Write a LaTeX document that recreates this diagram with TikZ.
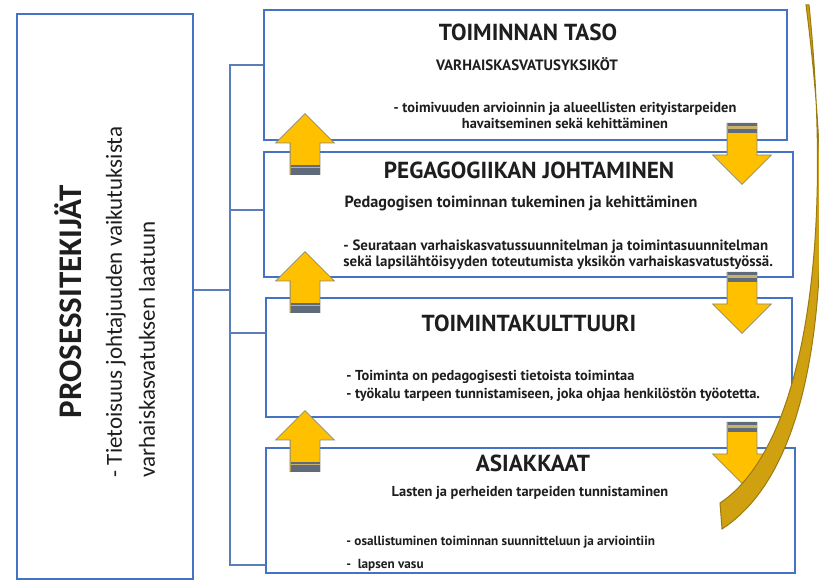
\documentclass[tikz,border=0pt]{standalone}
\usepackage{fontspec}
\newfontfamily\ptsans{PT Sans}
\newfontfamily\carlito{Carlito}
\usepackage{tikz}
\usetikzlibrary{shapes.arrows}
\definecolor{laatikonsininen}{HTML}{4472C4}
\definecolor{puunsininen}{HTML}{5B7DB8}
\definecolor{teksti}{HTML}{1E1E1E}
\definecolor{nuolenkeltainen}{HTML}{FFC000}
\definecolor{nuolenreuna}{HTML}{8A8A7A}
\definecolor{kaistanharmaa}{HTML}{5F6B7A}
\definecolor{raidankeltainen}{HTML}{C9B06B}
\definecolor{kaarenkulta}{HTML}{CFA010}
\definecolor{kaarenreuna}{HTML}{9C7A10}
\tikzstyle{laatikko} = [rectangle, draw=laatikonsininen, line width=1.4pt, fill=white, inner sep=0pt]
\tikzstyle{puu} = [draw=puunsininen, line width=0.6pt]
\tikzstyle{vasenteksti} = [font=\carlito\fontsize{11.5}{16.5}\selectfont, text=teksti, inner sep=0pt]
\tikzstyle{otsikko} = [font=\ptsans\bfseries\fontsize{11.6}{13}\selectfont, text=teksti, inner sep=0pt]
\tikzstyle{alaotsikko} = [font=\ptsans\bfseries\fontsize{8.1}{9}\selectfont, text=teksti, inner sep=0pt]
\tikzstyle{luettelo} = [font=\ptsans\bfseries\fontsize{7.2}{8}\selectfont, text=teksti, inner sep=0pt, align=left]
\tikzstyle{nuoli} = [single arrow, draw=nuolenreuna, line width=0.4pt, fill=nuolenkeltainen,
    minimum width=29pt, minimum height=30.5pt, single arrow head extend=7.25pt,
    single arrow tip angle=90, inner xsep=0pt, inner ysep=7.25pt, anchor=tail]
\tikzstyle{kaista} = [fill=kaistanharmaa]
\tikzstyle{raita} = [fill=raidankeltainen]

\begin{document}
\begin{tikzpicture}[x=0.5pt, y=-0.5pt]
  \useasboundingbox (0,0) rectangle (819,581);
   % Place boxes
    \node [laatikko, minimum width=88pt, minimum height=282.5pt] (prosessi) at (105,296.5) {};
    \node [laatikko, minimum width=261.5pt, minimum height=65pt] (taso) at (525.5,75) {};
    \node [laatikko, minimum width=264.5pt, minimum height=62.5pt] (johtaminen) at (528.5,214.5) {};
    \node [laatikko, minimum width=263pt, minimum height=59.5pt] (kulttuuri) at (529,357.5) {};
    \node [laatikko, minimum width=264.5pt, minimum height=62.5pt] (asiakkaat) at (530.5,510.5) {};
   % Draw tree
    \coordinate (haara) at (230,290);
    \draw [puu] (prosessi.east |- haara) -- (haara);
    \draw [puu] (taso.west |- 0,65) -| (haara) |- (asiakkaat.west |- 0,565);
    \draw [puu] (haara |- 0,210) -- (johtaminen.west |- 0,210);
    \draw [puu] (haara |- 0,333) -- (kulttuuri.west |- 0,333);
   % Texts
    \node [vasenteksti, rotate=90] (prosessiteksti) at (110,302) {%
      \begin{tabular}{@{}l@{}}
      \multicolumn{1}{@{}c@{}}{\fontsize{16.5}{20}\selectfont\bfseries PROSESSITEKIJÄT}\\[3.5pt]
      - Tietoisuus johtajuuden vaikutuksista\\
      varhaiskasvatuksen laatuun
      \end{tabular}};
    \node [otsikko] (taso-otsikko) at (528,32) {TOIMINNAN TASO};
    \node [alaotsikko, font=\ptsans\bfseries\fontsize{7.5}{9}\selectfont] (taso-ala) at (527,64) {VARHAISKASVATUSYKSIKÖT};
    \node [luettelo, align=center] (taso-luettelo) at (565,115) {- toimivuuden arvioinnin ja alueellisten erityistarpeiden\\havaitseminen sekä kehittäminen};
    \node [otsikko] (johtaminen-otsikko) at (529,170) {PEGAGOGIIKAN JOHTAMINEN};
    \node [alaotsikko] (johtaminen-ala) at (521,203) {Pedagogisen toiminnan tukeminen ja kehittäminen};
    \node [luettelo, anchor=west, font=\ptsans\bfseries\fontsize{7.45}{8}\selectfont] (johtaminen-luettelo) at (343,255) {- Seurataan varhaiskasvatussuunnitelman ja toimintasuunnitelman\\sekä lapsilähtöisyyden toteutumista yksikön varhaiskasvatustyössä.};
    \node [otsikko] (kulttuuri-otsikko) at (529,323) {TOIMINTAKULTTUURI};
    \node [luettelo, anchor=west, font=\ptsans\bfseries\fontsize{7.2}{9}\selectfont] (kulttuuri-luettelo) at (346,386) {- Toiminta on pedagogisesti tietoista toimintaa\\- työkalu tarpeen tunnistamiseen, joka ohjaa henkilöstön työotetta.};
    \node [otsikko] (asiakkaat-otsikko) at (533,463) {ASIAKKAAT};
    \node [alaotsikko, font=\ptsans\bfseries\fontsize{7.2}{9}\selectfont] (asiakkaat-ala) at (530,493) {Lasten ja perheiden tarpeiden tunnistaminen};
    \node [luettelo, anchor=west, font=\ptsans\bfseries\fontsize{6.6}{11.5}\selectfont] (asiakkaat-luettelo) at (346,553.5) {- osallistuminen toiminnan suunnitteluun ja arviointiin\\-\enspace lapsen vasu};
   % Up arrows
    \node [nuoli, rotate=90] (ylos1) at (305,175) {};
    \node [nuoli, rotate=90] (ylos2) at (305,313) {};
    \node [nuoli, rotate=90] (ylos3) at (305,472) {};
    \fill [kaista] ([xshift=-7.25pt]ylos1.tail) rectangle ([xshift=7.25pt,yshift=5pt]ylos1.tail);
    \fill [raita] ([xshift=-7.25pt,yshift=3.5pt]ylos1.tail) rectangle ([xshift=7.25pt,yshift=4.2pt]ylos1.tail);
    \fill [kaista] ([xshift=-7.25pt]ylos2.tail) rectangle ([xshift=7.25pt,yshift=5pt]ylos2.tail);
    \fill [raita] ([xshift=-7.25pt,yshift=3.5pt]ylos2.tail) rectangle ([xshift=7.25pt,yshift=4.2pt]ylos2.tail);
    \fill [kaista] ([xshift=-7.25pt]ylos3.tail) rectangle ([xshift=7.25pt,yshift=5pt]ylos3.tail);
    \fill [raita] ([xshift=-7.25pt,yshift=3.5pt]ylos3.tail) rectangle ([xshift=7.25pt,yshift=4.2pt]ylos3.tail);
   % Down arrows
    \node [nuoli, rotate=-90] (alas1) at (742,123) {};
    \node [nuoli, rotate=-90] (alas2) at (742,272) {};
    \node [nuoli, rotate=-90] (alas3) at (742,422) {};
    \fill [kaista] ([xshift=-7.25pt]alas1.tail) rectangle ([xshift=7.25pt,yshift=-5pt]alas1.tail);
    \fill [raita] ([xshift=-7.25pt,yshift=-1.5pt]alas1.tail) rectangle ([xshift=7.25pt,yshift=-3.2pt]alas1.tail);
    \fill [kaista] ([xshift=-7.25pt]alas2.tail) rectangle ([xshift=7.25pt,yshift=-5pt]alas2.tail);
    \fill [raita] ([xshift=-7.25pt,yshift=-1.5pt]alas2.tail) rectangle ([xshift=7.25pt,yshift=-3.2pt]alas2.tail);
    \fill [kaista] ([xshift=-7.25pt]alas3.tail) rectangle ([xshift=7.25pt,yshift=-5pt]alas3.tail);
    \fill [raita] ([xshift=-7.25pt,yshift=-1.5pt]alas3.tail) rectangle ([xshift=7.25pt,yshift=-3.2pt]alas3.tail);
   % Curved arrow
    \filldraw [fill=kaarenkulta, draw=kaarenreuna, line width=0.5pt]
      (806,5) .. controls (835,230) and (828,460) .. (722,529)
      -- (720,503) .. controls (800,450) and (835,260) .. (809,5) -- cycle;
\end{tikzpicture}
\end{document}
